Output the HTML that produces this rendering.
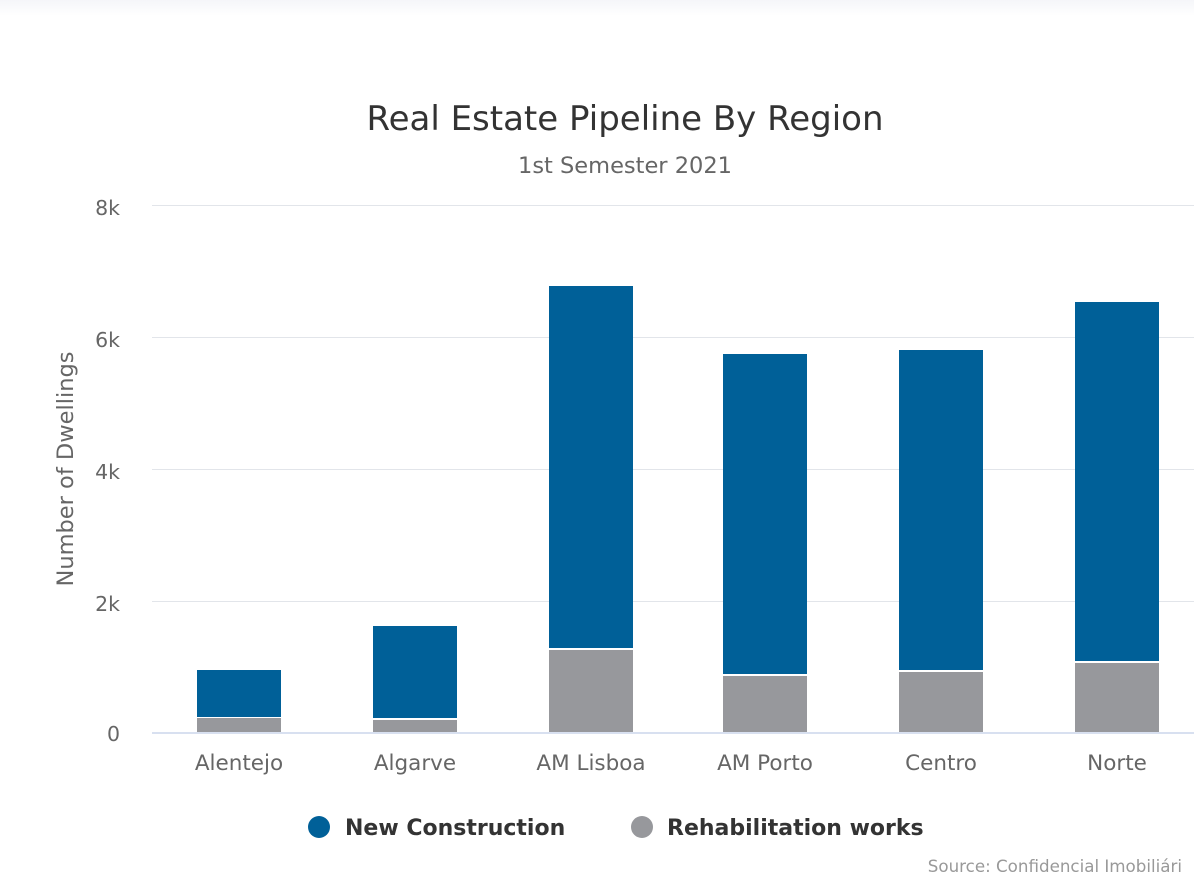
<!DOCTYPE html>
<html><head><meta charset="utf-8"><style>
html,body{margin:0;padding:0;background:#fff;}
body{width:1194px;height:896px;overflow:hidden;position:relative;font-family:"DejaVu Sans",sans-serif;}
.top{position:absolute;left:0;top:0;width:1194px;height:16px;background:linear-gradient(#f5f6f9,#fff);}
</style></head><body>
<div class="top"></div>
<svg width="1194" height="896" style="position:absolute;left:0;top:0" font-family="DejaVu Sans, sans-serif">
<text x="625" y="130" text-anchor="middle" font-size="34" fill="#333">Real Estate Pipeline By Region</text>
<text x="625" y="173" text-anchor="middle" font-size="22.5" fill="#666">1st Semester 2021</text>
<g stroke="#e2e5ea" stroke-width="1">
<line x1="152" x2="1194" y1="205.5" y2="205.5"/>
<line x1="152" x2="1194" y1="337.5" y2="337.5"/>
<line x1="152" x2="1194" y1="469.5" y2="469.5"/>
<line x1="152" x2="1194" y1="601.5" y2="601.5"/>
</g>
<g font-size="20.5" fill="#666" text-anchor="end">
<text x="120" y="215">8k</text>
<text x="120" y="347">6k</text>
<text x="120" y="479">4k</text>
<text x="120" y="611">2k</text>
<text x="120" y="741">0</text>
</g>
<text transform="translate(73,469) rotate(-90)" text-anchor="middle" font-size="22.5" fill="#666">Number of Dwellings</text>
<g fill="#006098">
<rect x="197" y="670" width="84" height="47"/>
<rect x="373" y="626" width="84" height="92"/>
<rect x="549" y="286" width="84" height="362"/>
<rect x="723" y="354" width="84" height="320"/>
<rect x="899" y="350" width="84" height="320"/>
<rect x="1075" y="302" width="84" height="359"/>
</g>
<g fill="#97989c">
<rect x="197" y="718" width="84" height="14"/>
<rect x="373" y="720" width="84" height="12"/>
<rect x="549" y="650" width="84" height="82"/>
<rect x="723" y="676" width="84" height="56"/>
<rect x="899" y="672" width="84" height="60"/>
<rect x="1075" y="663" width="84" height="69"/>
</g>
<line x1="152" x2="1194" y1="733" y2="733" stroke="#ccd6eb" stroke-width="1.5"/>
<g font-size="21.5" fill="#666" text-anchor="middle">
<text x="239" y="770">Alentejo</text>
<text x="415" y="770">Algarve</text>
<text x="591" y="770">AM Lisboa</text>
<text x="765" y="770">AM Porto</text>
<text x="941" y="770">Centro</text>
<text x="1117" y="770">Norte</text>
</g>
<circle cx="319" cy="827" r="11" fill="#006098"/>
<text x="345" y="835" font-size="22" font-weight="bold" fill="#333">New Construction</text>
<circle cx="642" cy="827" r="11" fill="#97989c"/>
<text x="667" y="835" font-size="22" font-weight="bold" fill="#333">Rehabilitation works</text>
<text x="1182" y="872" text-anchor="end" font-size="16.7" fill="#999">Source: Confidencial Imobiliári</text>
</svg>
</body></html>
